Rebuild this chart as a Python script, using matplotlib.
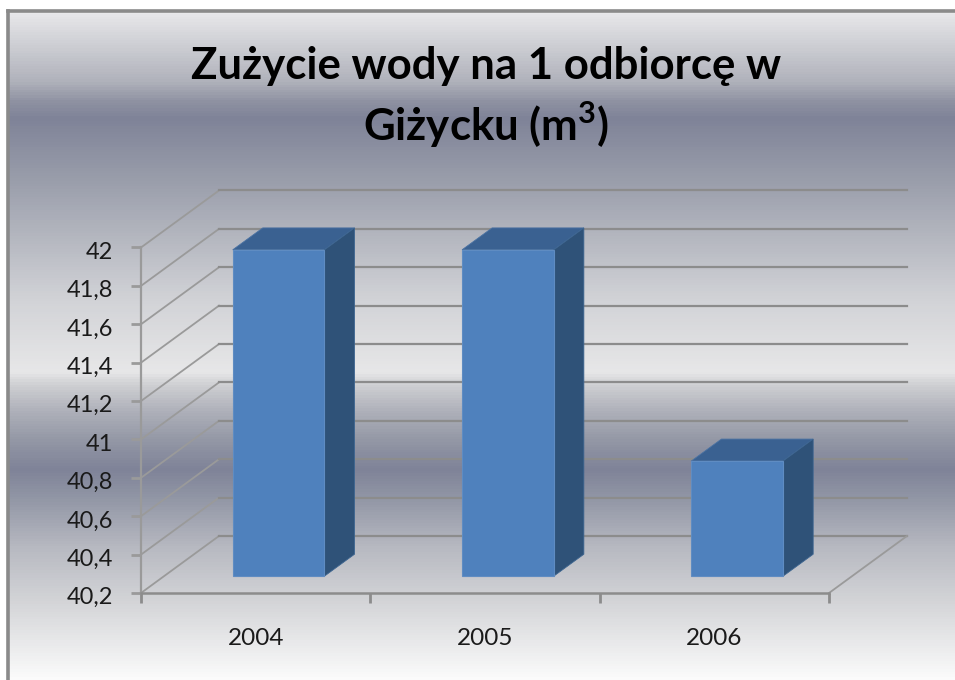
import numpy as np
import matplotlib
matplotlib.use('Agg')
import matplotlib.pyplot as plt
from matplotlib.colors import LinearSegmentedColormap
from matplotlib.patches import Polygon
from matplotlib.transforms import ScaledTranslation

plt.rcParams['font.family'] = ['Lato', 'DejaVu Sans']
plt.rcParams['mathtext.fontset'] = 'custom'
plt.rcParams['mathtext.bf'] = 'Lato:bold'

years = ['2004', '2005', '2006']
water_use = [41.9, 41.9, 40.8]
y_ticks = [40.2, 40.4, 40.6, 40.8, 41.0, 41.2, 41.4, 41.6, 41.8, 42.0]
y_labels = ['40,2', '40,4', '40,6', '40,8', '41', '41,2', '41,4', '41,6', '41,8', '42']
title = 'Zużycie wody na 1 odbiorcę w\nGiżycku (m$^{\\mathbf{3}}$)'

W, H = 955, 680
fig = plt.figure(figsize=(W / 100, H / 100), dpi=100, facecolor='white')

# tlo: gradient od gory do dolu, ramka tylko z lewej i u gory
top, left = 11, 8
bg = fig.add_axes([left / W, 0, (W - left) / W, (H - top) / H])
stop_px = [11, 80, 100, 117, 180, 300, 372, 385, 410, 440, 470, 500, 550, 600, 680]
stop_col = ['#e8e8ea', '#b0b2bb', '#8f92a2', '#7f8398', '#9a9eab', '#d2d3d7', '#e7e7e8', '#cfd0d3',
            '#b0b2bb', '#9498a6', '#7f8398', '#9297a6', '#b8bac2', '#d2d3d6', '#fbfbfb']
stops = [((p - 11) / (680 - 11), c) for p, c in zip(stop_px, stop_col)]
cmap = LinearSegmentedColormap.from_list('tlo', stops)
bg.imshow(np.linspace(0, 1, 669).reshape(-1, 1), cmap=cmap, aspect='auto', vmin=0, vmax=1)
bg.set_xticks([])
bg.set_yticks([])
for side, s in bg.spines.items():
    s.set_color('#8a8a8a')
    s.set_linewidth(2.6)
    s.set_visible(side in ['left', 'top'])

# przednia plaszczyzna wykresu
ax = fig.add_axes([141 / W, 1 - 593 / H, (829 - 141) / W, (593 - 247.5) / H])
ax.patch.set_alpha(0)
ax.set_xlim(-0.5, 2.5)
ax.set_ylim(40.2, 42)

# glebokosc w jednostkach danych
wall_dx, wall_dy = 0.34, 0.297
bar_dx, bar_dy = 0.10, 0.088
depth_dx, depth_dy = 0.131, 0.114
bar_w = 0.40
grid_c = '#8c8c8c'
axis_c = '#9a9a9a'

for t in y_ticks:
    ax.plot([-0.5, -0.5 + wall_dx], [t, t + wall_dy], color=axis_c, lw=1.3, clip_on=False)
    ax.plot([-0.5 + wall_dx, 2.5 + wall_dx], [t + wall_dy, t + wall_dy], color=grid_c, lw=1.6,
            clip_on=False)
ax.plot([2.5, 2.5 + wall_dx], [40.2, 40.2 + wall_dy], color=axis_c, lw=1.3, clip_on=False)

for i, v in enumerate(water_use):
    x0 = i - bar_w / 2 + bar_dx
    x1 = x0 + bar_w
    y0 = 40.2 + bar_dy
    y1 = v + bar_dy
    ax.add_patch(Polygon([(x0, y1), (x0 + depth_dx, y1 + depth_dy), (x1 + depth_dx, y1 + depth_dy), (x1, y1)],
                         fc='#3a6191', ec='#4a72a3', lw=0.6, clip_on=False, zorder=3))
    ax.add_patch(Polygon([(x1, y0), (x1 + depth_dx, y0 + depth_dy), (x1 + depth_dx, y1 + depth_dy), (x1, y1)],
                         fc='#2f5278', ec='#3d6590', lw=0.6, clip_on=False, zorder=3))
    ax.add_patch(Polygon([(x0, y0), (x1, y0), (x1, y1), (x0, y1)],
                         fc='#4f81bd', ec='#5f8cc2', lw=0.8, clip_on=False, zorder=4))

for side in ['top', 'right']:
    ax.spines[side].set_visible(False)
ax.spines['left'].set_color(axis_c)
ax.spines['left'].set_linewidth(1.6)
ax.spines['bottom'].set_color(grid_c)
ax.spines['bottom'].set_linewidth(1.8)

ax.set_yticks(y_ticks)
ax.set_yticklabels(y_labels)
ax.set_xticks([-0.5, 0.5, 1.5, 2.5])
ax.set_xticklabels([])
ax.set_xticks([0, 1, 2], minor=True)
ax.set_xticklabels(years, minor=True)
ax.tick_params(axis='x', which='major', length=7, width=2, color=grid_c, direction='out')
ax.tick_params(axis='x', which='minor', length=0, pad=25, labelsize=17.5, labelcolor='#1a1a1a')
ax.tick_params(axis='y', length=7, width=2, color=axis_c, pad=13, labelsize=17, labelcolor='#1a1a1a')

# etykiety osi y lekko ponizej kresek
shift = ScaledTranslation(0, -2 / 72, fig.dpi_scale_trans)
for lab in ax.get_yticklabels():
    lab.set_transform(lab.get_transform() + shift)

fig.text(486 / W, 1 - 98 / H, title, ha='center', va='center', fontsize=31.5, fontweight='bold',
         color='black', linespacing=1.35)

fig.savefig('out.png', dpi=100)
